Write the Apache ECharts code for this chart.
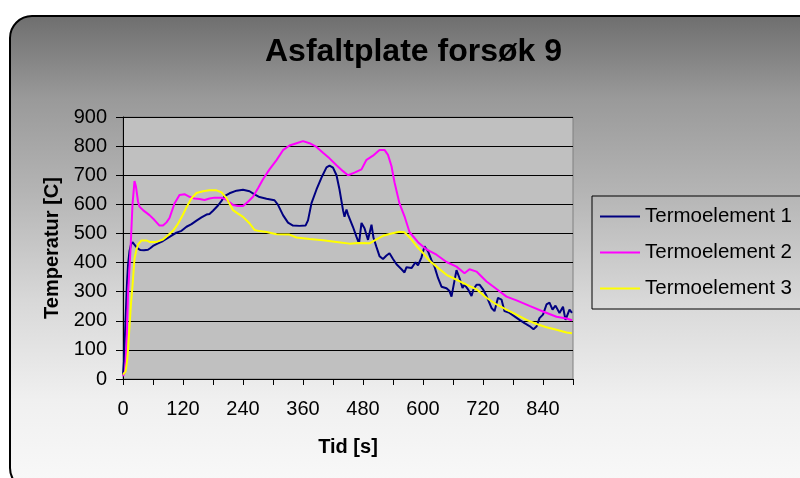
<!DOCTYPE html>
<html>
<head>
<meta charset="utf-8">
<script src="https://cdn.jsdelivr.net/npm/echarts@6/dist/echarts.min.js"></script>
<style>
  html, body { margin: 0; padding: 0; background: #ffffff; }
  #chart { width: 800px; height: 478px; }
</style>
</head>
<body>
<div id="chart"></div>
<script>
// Thermocouple readings, asphalt plate test no. 9 (time in seconds, temperature in C)
const seriesNames = ['Termoelement 1', 'Termoelement 2', 'Termoelement 3'];
const seriesColors = ['#000080', '#ff00ff', '#ffff00'];

const time1 = [0, 2, 5, 8, 10, 13, 16, 19, 22, 26, 30, 35, 42, 50, 55, 60, 70, 80, 93, 107, 117, 127, 137, 147, 157, 167, 173, 180, 190, 197, 203, 213, 227, 240, 253, 263, 273, 287, 303, 310, 320, 330, 340, 353, 365, 370, 377, 387, 397, 407, 413, 420, 427, 433, 440, 443, 447, 450, 453, 460, 467, 472, 477, 480, 483, 490, 497, 501, 507, 513, 520, 527, 533, 540, 547, 557, 563, 567, 577, 585, 590, 597, 603, 607, 610, 617, 623, 630, 637, 647, 653, 657, 661, 667, 673, 679, 683, 690, 697, 701, 707, 713, 720, 727, 737, 743, 750, 757, 763, 773, 783, 793, 803, 813, 821, 827, 833, 840, 847, 853, 859, 865, 873, 880, 885, 893, 898];
const temp1 = [15, 60, 200, 330, 390, 440, 462, 470, 465, 455, 448, 443, 442, 444, 450, 457, 466, 474, 488, 503, 509, 523, 532, 544, 555, 565, 567, 578, 596, 612, 628, 638, 647, 650, 645, 634, 625, 619, 614, 598, 563, 537, 527, 526, 527, 545, 604, 651, 692, 727, 733, 726, 700, 651, 580, 557, 582, 565, 560, 522, 488, 466, 536, 530, 518, 478, 530, 485, 453, 422, 412, 424, 432, 412, 394, 377, 366, 384, 381, 401, 390, 418, 456, 452, 438, 408, 386, 347, 317, 312, 302, 283, 320, 374, 347, 313, 324, 308, 285, 308, 324, 324, 308, 285, 244, 233, 279, 273, 233, 227, 215, 203, 192, 182, 171, 180, 209, 221, 256, 262, 238, 252, 227, 248, 203, 238, 227];

const time2 = [0, 4, 7, 10, 15, 19, 23, 26, 30, 33, 40, 53, 63, 73, 80, 87, 93, 103, 113, 123, 133, 143, 153, 163, 173, 183, 197, 207, 220, 230, 240, 250, 260, 270, 280, 293, 307, 320, 333, 347, 360, 373, 387, 400, 413, 427, 440, 450, 463, 477, 487, 500, 513, 523, 530, 537, 543, 553, 563, 573, 590, 607, 627, 647, 667, 683, 693, 707, 727, 747, 767, 787, 813, 840, 867, 887, 898];
const temp2 = [10, 25, 120, 290, 445, 600, 680, 660, 610, 592, 580, 563, 546, 527, 527, 538, 553, 603, 632, 635, 626, 620, 618, 615, 620, 623, 623, 615, 598, 594, 594, 609, 626, 655, 686, 720, 752, 786, 802, 810, 817, 810, 797, 777, 758, 734, 714, 700, 709, 720, 753, 767, 787, 787, 770, 731, 676, 603, 559, 505, 470, 445, 427, 402, 386, 363, 377, 369, 335, 309, 283, 270, 251, 232, 214, 208, 202];

const time3 = [0, 5, 8, 10, 13, 16, 19, 23, 27, 30, 37, 47, 53, 67, 80, 90, 100, 110, 120, 127, 137, 147, 160, 173, 187, 197, 207, 220, 230, 240, 253, 263, 273, 287, 307, 333, 347, 373, 400, 427, 453, 470, 493, 507, 520, 537, 553, 563, 573, 587, 600, 613, 627, 647, 667, 687, 707, 727, 747, 767, 787, 807, 827, 847, 867, 887, 898];
const temp3 = [15, 25, 60, 100, 180, 260, 320, 414, 445, 462, 476, 476, 471, 471, 479, 494, 509, 533, 565, 590, 621, 639, 645, 648, 648, 641, 621, 580, 568, 557, 535, 512, 508, 505, 497, 496, 486, 481, 477, 471, 465, 467, 466, 480, 492, 500, 506, 504, 487, 457, 433, 406, 386, 358, 341, 324, 308, 279, 256, 238, 221, 203, 189, 178, 169, 160, 157];

// Axis ticks and labels
const xLabelValues = [0, 120, 240, 360, 480, 600, 720, 840];
const yTickValues = [0, 100, 200, 300, 400, 500, 600, 700, 800, 900];

const FONT = '"Liberation Sans", Arial, sans-serif';
const pairs = (ts, vs) => ts.map((t, i) => [t, vs[i]]);
const seriesData = [pairs(time1, temp1), pairs(time2, temp2), pairs(time3, temp3)];

const chart = echarts.init(document.getElementById('chart'), null, { renderer: 'canvas' });

chart.setOption({
  animation: false,
  backgroundColor: '#ffffff',
  textStyle: { fontFamily: FONT },
  graphic: {
    elements: [{
      type: 'rect',
      z: -10,
      silent: true,
      shape: { x: 10, y: 16, width: 830, height: 474, r: 22 },
      style: {
        fill: new echarts.graphic.LinearGradient(0, 0, 0, 1, [
          { offset: 0, color: '#6e6e6e' },
          { offset: 0.072, color: '#808080' },
          { offset: 0.178, color: '#9a9a9a' },
          { offset: 0.369, color: '#b4b4b4' },
          { offset: 0.496, color: '#c8c8c8' },
          { offset: 0.60, color: '#d8d8d8' },
          { offset: 0.81, color: '#f0f0f0' },
          { offset: 1, color: '#f9f9f9' }
        ]),
        stroke: '#000000',
        lineWidth: 2
      }
    }]
  },
  title: {
    text: 'Asfaltplate forsøk 9',
    left: 265,
    top: 36,
    padding: 0,
    textStyle: { fontFamily: FONT, fontSize: 32, fontWeight: 'bold', color: '#000000' }
  },
  legend: {
    orient: 'vertical',
    left: 592,
    top: 196,
    padding: [10, 30, 10, 8],
    itemGap: 15,
    itemWidth: 40,
    itemHeight: 2,
    icon: 'rect',
    borderColor: '#000000',
    borderWidth: 1,
    backgroundColor: 'transparent',
    data: seriesNames,
    textStyle: { fontFamily: FONT, fontSize: 20.5, color: '#000000' }
  },
  grid: {
    left: 123,
    top: 117,
    right: 227,
    bottom: 99,
    containLabel: false,
    outerBoundsMode: 'none',
    show: true,
    backgroundColor: '#c0c0c0',
    borderColor: '#808080',
    borderWidth: 1
  },
  xAxis: {
    type: 'value',
    min: 0,
    max: 900,
    interval: 60,
    name: 'Tid [s]',
    nameLocation: 'middle',
    nameGap: 58,
    nameTextStyle: { fontFamily: FONT, fontSize: 20, fontWeight: 'bold', color: '#000000' },
    axisLine: { show: true, onZero: false, lineStyle: { color: '#000000', width: 1 } },
    axisTick: { show: true, inside: false, length: 6, lineStyle: { color: '#000000', width: 1 } },
    axisLabel: {
      show: true,
      margin: 20,
      fontFamily: FONT,
      fontSize: 20,
      color: '#000000',
      formatter: v => (xLabelValues.indexOf(v) >= 0 ? String(v) : '')
    },
    splitLine: { show: false }
  },
  yAxis: {
    type: 'value',
    min: yTickValues[0],
    max: yTickValues[yTickValues.length - 1],
    interval: 100,
    name: 'Temperatur [C]',
    nameLocation: 'middle',
    nameRotate: 90,
    nameGap: 60,
    nameTextStyle: { fontFamily: FONT, fontSize: 20, fontWeight: 'bold', color: '#000000' },
    axisLine: { show: true, onZero: false, lineStyle: { color: '#000000', width: 1 } },
    axisTick: { show: true, inside: false, length: 7, lineStyle: { color: '#000000', width: 1 } },
    axisLabel: { show: true, margin: 16, fontFamily: FONT, fontSize: 20, color: '#000000' },
    splitLine: { show: true, lineStyle: { color: '#000000', width: 1 } }
  },
  series: seriesNames.map((name, i) => ({
    name: name,
    type: 'line',
    data: seriesData[i],
    symbol: 'none',
    smooth: false,
    color: seriesColors[i],
    lineStyle: { color: seriesColors[i], width: 2 },
    emphasis: { disabled: true }
  }))
});
</script>
</body>
</html>
